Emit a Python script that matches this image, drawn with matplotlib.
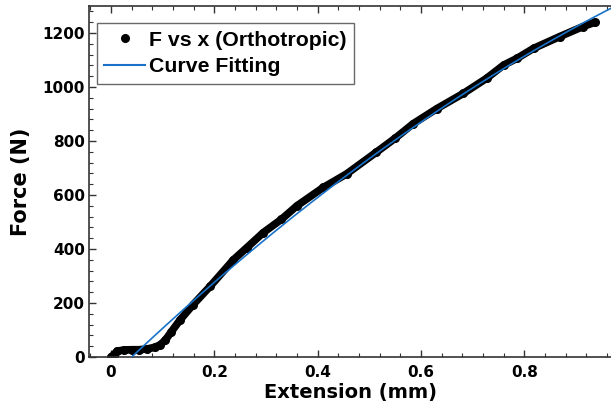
import matplotlib
matplotlib.use("Agg")
import matplotlib.pyplot as plt
from matplotlib.lines import Line2D
from matplotlib.ticker import MultipleLocator
import numpy as np

# measured points (extension in mm, force in N)
extension = [0.0, 0.005, 0.012, 0.025, 0.04, 0.055, 0.07, 0.085, 0.095, 0.105,
             0.117, 0.134, 0.159, 0.192, 0.237, 0.263, 0.295, 0.33, 0.36, 0.411,
             0.456, 0.514, 0.55, 0.585, 0.631, 0.682, 0.727, 0.76, 0.786, 0.818,
             0.869, 0.914, 0.937]
force = [0, 8, 22, 26, 27, 27, 30, 36, 45, 62,
         94, 138, 194, 262, 360, 405, 461, 510, 560, 628,
         678, 759, 810, 864, 920, 976, 1032, 1081, 1106, 1143,
         1187, 1224, 1240]

# quadratic fit coefficients: c2*x^2 + c1*x + c0
fit_coeffs = [-438.6, 1834.0, -72.7]

fig = plt.figure(figsize=(6.11, 4.16), dpi=100)
ax = fig.add_axes([89/611, 59/416, 1 - 89/611, 351/416])

ax.plot(extension, force, color='black', lw=5.5, solid_capstyle='round',
        solid_joinstyle='round', zorder=2)
ax.plot(extension, force, 'o', color='black', ms=5.5, zorder=2)

xf = np.linspace(0, 1.0, 200)
ax.plot(xf, np.polyval(fit_coeffs, xf), color='#1a72c8', lw=1.2, zorder=3)

ax.set_xlim(-0.0426, 0.968)
ax.set_ylim(0, 1300)

ax.xaxis.set_major_locator(MultipleLocator(0.2))
ax.xaxis.set_minor_locator(MultipleLocator(0.04))
ax.yaxis.set_major_locator(MultipleLocator(200))
ax.yaxis.set_minor_locator(MultipleLocator(40))
ax.set_xticks([0, 0.2, 0.4, 0.6, 0.8])
ax.set_xticklabels(['0', '0.2', '0.4', '0.6', '0.8'])

ax.spines['right'].set_visible(False)
for s in ['left', 'bottom', 'top']:
    ax.spines[s].set_linewidth(1.2)
    ax.spines[s].set_color('#333333')

ax.tick_params(which='major', direction='in', length=5, width=1, top=True,
               right=False, pad=6, colors='#333333', labelcolor='black')
ax.tick_params(which='minor', direction='in', length=3, width=0.8, top=True,
               right=False, colors='#333333')
ax.tick_params(axis='y', pad=3)
for lab in ax.get_xticklabels() + ax.get_yticklabels():
    lab.set_fontfamily('DejaVu Sans')
    lab.set_fontweight('bold')
    lab.set_fontsize(11)

ax.set_xlabel('Extension (mm)', fontfamily='DejaVu Sans', fontweight='bold',
              fontsize=14, labelpad=2)
ax.set_ylabel('Force (N)', fontfamily='DejaVu Sans', fontweight='bold',
              fontsize=15, labelpad=8)

handles = [Line2D([], [], marker='o', ls='none', color='black', ms=5.5),
           Line2D([], [], color='#1a72c8', lw=1.5)]
leg = ax.legend(handles, ['F vs x (Orthotropic)', 'Curve Fitting'],
                loc='upper left', bbox_to_anchor=(0.0153, 0.9506),
                prop={'family': 'Liberation Sans', 'weight': 'bold', 'size': 15.3},
                frameon=True, fancybox=False, edgecolor='#444444',
                handlelength=1.9, handletextpad=0.2, borderpad=0.35,
                labelspacing=0.35, borderaxespad=0)
leg.get_frame().set_linewidth(1.0)

fig.savefig('out.png', dpi=100)
